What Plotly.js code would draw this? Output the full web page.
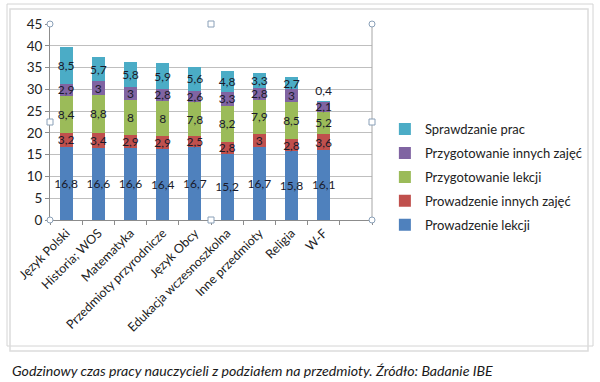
<!DOCTYPE html>
<html>
<head>
<meta charset="utf-8">
<script src="https://cdn.plot.ly/plotly-3.0.1.min.js"></script>
<style>html,body{margin:0;padding:0;background:#fff;}#chart{width:600px;height:382px;}</style>
</head>
<body>
<div id="chart"></div>
<script>
const categories = ["Język Polski","Historia; WOS","Matematyka","Przedmioty przyrodnicze","Język Obcy","Edukacja wczesnoszkolna","Inne przedmioty","Religia","W-F"];
const seriesNames = ["Prowadzenie lekcji","Prowadzenie innych zajęć","Przygotowanie lekcji","Przygotowanie innych zajęć","Sprawdzanie prac"];
const prowadzenieLekcji = [16.8,16.6,16.6,16.4,16.7,15.2,16.7,15.8,16.1];
const prowadzenieInnych = [3.2,3.4,2.9,2.9,2.5,2.8,3,2.8,3.6];
const przygotowanieLekcji = [8.4,8.8,8,8,7.8,8.2,7.9,8.5,5.2];
const przygotowanieInnych = [2.9,3,3,2.8,2.6,3.3,2.8,3,2.1];
const sprawdzaniePrac = [8.5,5.7,5.8,5.9,5.6,4.8,3.3,2.7,0.4];
const yTicks = [0,5,10,15,20,25,30,35,40,45];
const caption = "Godzinowy czas pracy nauczycieli z podziałem na przedmioty. Źródło: Badanie IBE";

const colors = ["#4F81BD","#C0504D","#9BBB59","#8064A2","#4BACC6"];
const series = [prowadzenieLekcji, prowadzenieInnych, przygotowanieLekcji, przygotowanieInnych, sprawdzaniePrac];
const xIdx = categories.map((_, i) => i);
const FONT = "Lato, 'Noto Sans', sans-serif";
const LBL = {family: FONT, size: 12, color: "#1a1a2a"};

const traces = series.map((vals, s) => ({
  type: "bar",
  name: seriesNames[s],
  x: xIdx,
  y: vals,
  width: 0.4,
  marker: {color: colors[s], line: {width: 0}},
  texttemplate: "%{y}",
  textposition: s === 4 ? vals.map(v => v < 1 ? "outside" : "inside") : "inside",
  insidetextanchor: "middle",
  textangle: 0,
  constraintext: "none",
  cliponaxis: false,
  textfont: LBL, outsidetextfont: LBL, insidetextfont: LBL,
  hoverinfo: "skip",
  legendgroup: "g" + s,
  legendrank: 100 - s
}));

function handle(xp, yp, kind) {
  return {type: kind === "c" ? "circle" : "rect", xref: "paper", yref: "paper", xsizemode: "pixel", ysizemode: "pixel",
    xanchor: xp, yanchor: yp, x0: -3, x1: 3, y0: -3, y1: 3,
    line: {color: "#8aa0b8", width: 1}, fillcolor: "#fff", layer: "above"};
}

const layout = {
  width: 600, height: 382,
  margin: {l: 50, r: 205, t: 24, b: 162},
  paper_bgcolor: "#fff", plot_bgcolor: "#fff",
  separators: ", ",
  barmode: "stack",
  font: {family: FONT, color: "#222"},
  showlegend: true,
  legend: {x: 1.04, y: 0.54, xanchor: "left", yanchor: "top", traceorder: "grouped",
    itemwidth: 30, tracegroupgap: 4, font: {family: FONT, size: 13, color: "#222"}, bgcolor: "rgba(0,0,0,0)"},
  xaxis: {
    range: [-0.5, 9.5], tickmode: "array", tickvals: xIdx, ticktext: categories,
    tickangle: -45, ticks: "", showgrid: false, zeroline: false,
    showline: true, linecolor: "#8c8c8c", linewidth: 1,
    tickfont: {family: FONT, size: 12.5, color: "#222"},
    minor: {tickmode: "linear", tick0: 0.5, dtick: 1, ticks: "outside", ticklen: 4, tickcolor: "#8c8c8c", showgrid: false},
    fixedrange: true
  },
  yaxis: {
    range: [0, 45], tickmode: "array", tickvals: yTicks, ticks: "outside", ticklen: 4, tickcolor: "#8c8c8c",
    showgrid: true, gridcolor: "#bfbfbf", gridwidth: 1, zeroline: false,
    showline: true, linecolor: "#8c8c8c", linewidth: 1,
    tickfont: {family: FONT, size: 13.5, color: "#222"},
    fixedrange: true
  },
  shapes: [
    {type: "line", xref: "paper", yref: "paper", x0: 1, x1: 1, y0: 0, y1: 1, line: {color: "#a6a6a6", width: 1}},
    {type: "rect", xref: "paper", yref: "paper", xsizemode: "pixel", ysizemode: "pixel", xanchor: 0, yanchor: 1,
      x0: -43, x1: 543, y0: 20, y1: -322, line: {color: "#d4d4d4", width: 1}, layer: "below"},
    {type: "rect", xref: "paper", yref: "paper", xsizemode: "pixel", ysizemode: "pixel", xanchor: 0, yanchor: 1,
      x0: -40, x1: 538, y0: 15, y1: -327, line: {color: "#dcdcdc", width: 1.5}, layer: "below"},
    handle(0, 1, "c"), handle(0.5, 1, "s"), handle(1, 1, "c"),
    handle(0, 0.5, "s"), handle(1, 0.5, "s"),
    handle(0, 0, "c"), handle(0.5, 0, "s"), handle(1, 0, "c")
  ],
  annotations: [{
    xref: "paper", yref: "paper", x: -0.125, y: -0.77, xanchor: "left", yanchor: "middle",
    text: "<i>" + caption + "</i>", showarrow: false,
    font: {family: FONT, size: 14.2, color: "#1a1a1a"}
  }]
};

Plotly.newPlot("chart", traces, layout, {displayModeBar: false, staticPlot: true});
</script>
</body>
</html>
